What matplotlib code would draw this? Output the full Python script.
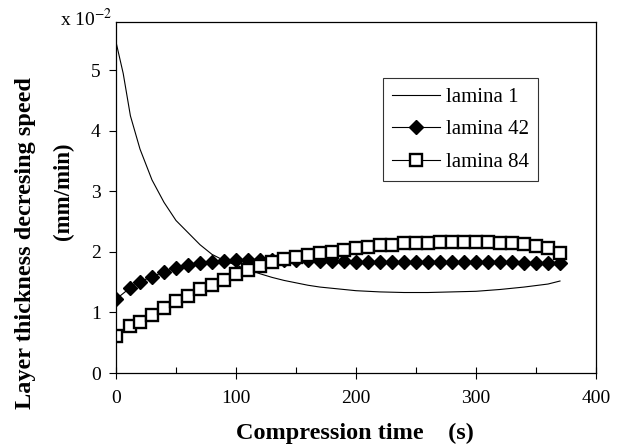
import matplotlib
matplotlib.use("Agg")
import matplotlib.pyplot as plt
from matplotlib.ticker import MultipleLocator

plt.rcParams['font.family'] = ['Liberation Serif', 'DejaVu Serif']
plt.rcParams['mathtext.fontset'] = 'stix'

# lamina 1 (line only)
t1 = [0, 6, 12, 20, 30, 40, 50, 60, 70, 80, 90, 100, 110, 120, 130, 140, 150, 160,
      170, 180, 190, 200, 220, 240, 260, 280, 300, 320, 340, 360, 370]
v1 = [5.47, 4.95, 4.25, 3.70, 3.19, 2.82, 2.52, 2.32, 2.12, 1.96, 1.86, 1.78, 1.71,
      1.64, 1.58, 1.53, 1.49, 1.45, 1.42, 1.40, 1.38, 1.36, 1.34, 1.33, 1.33, 1.34,
      1.35, 1.38, 1.42, 1.47, 1.52]

# lamina 42 / 84 (markers)
t2 = [0, 12] + list(range(20, 371, 10))
v42 = [1.22, 1.41, 1.51, 1.59, 1.67, 1.74, 1.78, 1.81, 1.84, 1.85,
       1.86, 1.86, 1.86, 1.86, 1.86, 1.86, 1.86, 1.85, 1.85, 1.85,
       1.84, 1.84, 1.84, 1.84, 1.84, 1.84, 1.83, 1.83, 1.83, 1.83,
       1.83, 1.83, 1.83, 1.83, 1.82, 1.82, 1.82, 1.82]
v84 = [0.61, 0.78, 0.85, 0.96, 1.07, 1.19, 1.27, 1.38, 1.46, 1.53,
       1.64, 1.70, 1.76, 1.83, 1.88, 1.92, 1.95, 1.99, 2.00, 2.03,
       2.06, 2.08, 2.11, 2.11, 2.14, 2.14, 2.14, 2.17, 2.17, 2.17,
       2.17, 2.17, 2.14, 2.14, 2.13, 2.10, 2.06, 1.99]

xticks = [0, 100, 200, 300, 400]
yticks = [0, 1, 2, 3, 4, 5]

fig = plt.figure(figsize=(6.23, 4.47), dpi=100)
ax = fig.add_axes([116/623, 1-373/447, (596-116)/623, (373-22)/447])

ax.plot(t1, v1, color='black', lw=0.8, label='lamina 1')
ax.plot(t2, v42, color='black', lw=0.8, marker='D', ms=7.5, mfc='black', mec='black',
        label='lamina 42')
ax.plot(t2, v84, color='black', lw=0.8, marker='s', ms=8, mfc='white', mec='black',
        mew=1.7, label='lamina 84')

ax.set_xlim(0, 400)
ax.set_ylim(0, 5.8)
ax.set_xticks(xticks)
ax.set_yticks(yticks)
ax.xaxis.set_minor_locator(MultipleLocator(50))
ax.tick_params(axis='x', which='major', direction='inout', length=8, width=0.8,
               labelsize=14, pad=8)
ax.tick_params(axis='x', which='minor', direction='in', length=4, width=0.8)
ax.tick_params(axis='y', which='major', direction='out', length=5, width=0.8,
               labelsize=14, pad=6)
for s in ax.spines.values():
    s.set_linewidth(0.9)

leg = ax.legend(loc='upper left', bbox_to_anchor=((383-116)/480, 1-(78-22)/351),
                fontsize=15, frameon=True, fancybox=False, edgecolor='black',
                handlelength=2.3, handletextpad=0.25, borderpad=0.45, labelspacing=0.62,
                borderaxespad=0)
leg.get_frame().set_linewidth(0.8)

fig.text(355/623, 1-433/447, 'Compression time    (s)', ha='center', va='center',
         fontsize=17.5, fontweight='bold')
fig.text(26/623, 1-243/447, 'Layer thickness decresing speed', ha='center', va='center',
         rotation=90, fontsize=17.5, fontweight='bold')
fig.text(63/623, 1-191/447, '(mm/min)', ha='center', va='center',
         rotation=90, fontsize=16.5, fontweight='bold')
fig.text(60/623, 1-19/447, r'x 10$^{-2}$', ha='left', va='center', fontsize=14)

fig.savefig('out.png', dpi=100)
